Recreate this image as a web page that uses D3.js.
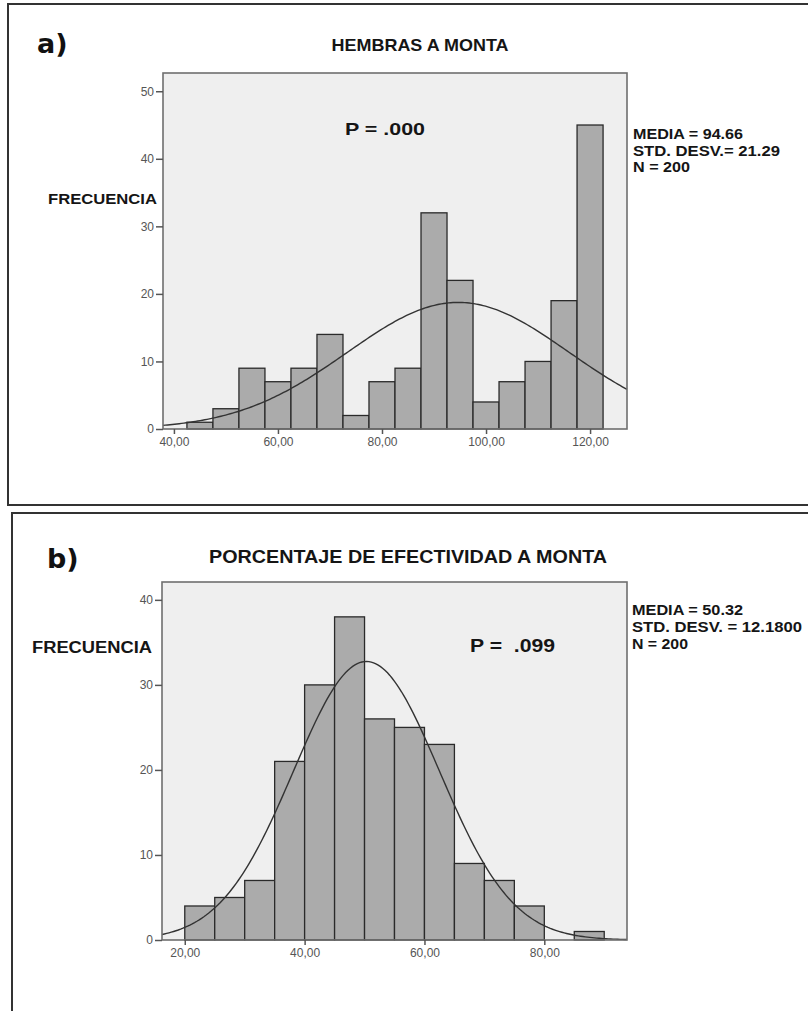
<!DOCTYPE html>
<html lang="es">
<head>
<meta charset="UTF-8">
<title>Histogramas</title>
<script src="https://cdn.jsdelivr.net/npm/d3@7"></script>
<style>
  body { margin: 0; background: #fff; }
  svg { display: block; }
  .tick text { font-family: "Liberation Sans", Arial, sans-serif; font-size: 12px; fill: #555; }
  .tick line { stroke: #555; stroke-width: 1.5; }
  .lbl { font-family: "Liberation Sans", Arial, sans-serif; font-weight: bold; fill: #151515; white-space: pre; }
  .tag { font-family: "DejaVu Sans", Verdana, sans-serif; font-weight: bold; fill: #111; }
</style>
</head>
<body>
<script>
// a) HEMBRAS A MONTA  (bin centres, width 5)
const hembrasBins = [45, 50, 55, 60, 65, 70, 75, 80, 85, 90, 95, 100, 105, 110, 115, 120];
const hembrasCounts = [1, 3, 9, 7, 9, 14, 2, 7, 9, 32, 22, 4, 7, 10, 19, 45];
const hembrasTicksX = [40, 60, 80, 100, 120];
const hembrasTicksY = [0, 10, 20, 30, 40, 50];
const hembrasStats = { media: 94.66, desv: 21.29, n: 200 };

// b) PORCENTAJE DE EFECTIVIDAD A MONTA
const efectBins = [22.5, 27.5, 32.5, 37.5, 42.5, 47.5, 52.5, 57.5, 62.5, 67.5, 72.5, 77.5, 82.5, 87.5];
const efectCounts = [4, 5, 7, 21, 30, 38, 26, 25, 23, 9, 7, 4, 0, 1];
const efectTicksX = [20, 40, 60, 80];
const efectTicksY = [0, 10, 20, 30, 40];
const efectStats = { media: 50.32, desv: 12.18, n: 200 };

const binWidth = 5;

const W = 808, H = 1011;
const svg = d3.select("body").append("svg")
  .attr("width", W).attr("height", H);
svg.append("rect").attr("width", W).attr("height", H).attr("fill", "#fff");

const fmt = d3.formatLocale({ decimal: ",", thousands: ".", grouping: [3], currency: ["", ""] }).format(".2f");

// panel borders (right / bottom edges are cut off in the original)
svg.append("path").attr("d", "M810,4H8V505H810")
  .attr("fill", "none").attr("stroke", "#333").attr("stroke-width", 2);
svg.append("path").attr("d", "M810,513H12V1013")
  .attr("fill", "none").attr("stroke", "#333").attr("stroke-width", 2);

function text(x, y, str, size, cls, len, anchor) {
  const t = svg.append("text")
    .attr("class", cls || "lbl")
    .attr("x", x).attr("y", y)
    .attr("font-size", size)
    .attr("text-anchor", anchor || "start")
    .attr("xml:space", "preserve")
    .text(str);
  if (len) t.attr("textLength", len).attr("lengthAdjust", "spacingAndGlyphs");
  return t;
}

function drawPanel(cfg) {
  const x = d3.scaleLinear().domain(cfg.xDomain).range([cfg.left, cfg.right]);
  const y = d3.scaleLinear().domain(cfg.yDomain).range([cfg.bottom, cfg.top]);
  const g = svg.append("g");

  g.append("rect")
    .attr("x", cfg.left).attr("y", cfg.top)
    .attr("width", cfg.right - cfg.left).attr("height", cfg.bottom - cfg.top)
    .attr("fill", "#efefef");

  const bars = cfg.bins.map((c, i) => ({ x0: c - binWidth / 2, x1: c + binWidth / 2, n: cfg.counts[i] }))
    .filter(d => d.n > 0);

  g.selectAll(".bar")
    .data(bars)
    .enter().append("rect")
    .attr("class", "bar")
    .attr("x", d => x(d.x0))
    .attr("y", d => y(d.n))
    .attr("width", d => x(d.x1) - x(d.x0))
    .attr("height", d => y(0) - y(d.n))
    .attr("fill", "#ababab")
    .attr("stroke", "#2a2a2a")
    .attr("stroke-width", 1.3);

  // fitted normal curve
  const { media, desv, n } = cfg.stats;
  const dens = v => n * binWidth / (desv * Math.sqrt(2 * Math.PI)) * Math.exp(-0.5 * ((v - media) / desv) ** 2);
  const xs = d3.range(0, 201).map(i => cfg.xDomain[0] + (cfg.xDomain[1] - cfg.xDomain[0]) * i / 200);
  g.append("path")
    .datum(xs)
    .attr("fill", "none")
    .attr("stroke", "#333")
    .attr("stroke-width", 1.4)
    .attr("d", d3.line().x(v => x(v)).y(v => y(dens(v))));

  g.append("rect")
    .attr("x", cfg.left).attr("y", cfg.top)
    .attr("width", cfg.right - cfg.left).attr("height", cfg.bottom - cfg.top)
    .attr("fill", "none").attr("stroke", "#6f6f6f").attr("stroke-width", 1.6);

  g.append("g")
    .attr("transform", `translate(${cfg.left},0)`)
    .call(d3.axisLeft(y).tickValues(cfg.ticksY).tickSize(7).tickPadding(2))
    .call(a => a.select(".domain").remove())
    .call(a => a.selectAll("text").attr("font-size", null));

  g.append("g")
    .attr("transform", `translate(0,${cfg.bottom})`)
    .call(d3.axisBottom(x).tickValues(cfg.ticksX).tickFormat(fmt).tickSize(5).tickPadding(3))
    .call(a => a.select(".domain").remove())
    .call(a => a.selectAll("text").attr("font-size", null));
}

drawPanel({
  bins: hembrasBins, counts: hembrasCounts, ticksX: hembrasTicksX, ticksY: hembrasTicksY,
  stats: hembrasStats, xDomain: [37.9, 127.1], yDomain: [0, 52.7],
  left: 163, right: 627, top: 73, bottom: 429
});

drawPanel({
  bins: efectBins, counts: efectCounts, ticksX: efectTicksX, ticksY: efectTicksY,
  stats: efectStats, xDomain: [16.2, 93.8], yDomain: [0, 42.1],
  left: 162, right: 627, top: 582, bottom: 940
});

// panel a texts
text(37, 53, "a)", 27, "tag");
text(420, 51, "HEMBRAS A MONTA", 17, "lbl", 177, "middle");
text(345, 135, "P = .000", 17, "lbl", 80);
text(48, 204, "FRECUENCIA", 15, "lbl", 109);
text(633, 139, "MEDIA = 94.66", 15, "lbl", 110);
text(633, 156, "STD. DESV.= 21.29", 15, "lbl", 147);
text(633, 172, "N = 200", 15, "lbl", 57);

// panel b texts
text(47, 568, "b)", 27, "tag");
text(408, 563, "PORCENTAJE DE EFECTIVIDAD A MONTA", 18, "lbl", 398, "middle");
text(470, 652, "P =  .099", 19, "lbl", 85);
text(32, 653, "FRECUENCIA", 16, "lbl", 120);
text(632, 615, "MEDIA = 50.32", 15, "lbl", 111);
text(632, 632, "STD. DESV. = 12.1800", 15, "lbl", 170);
text(632, 649, "N = 200", 15, "lbl", 56);
</script>
</body>
</html>
